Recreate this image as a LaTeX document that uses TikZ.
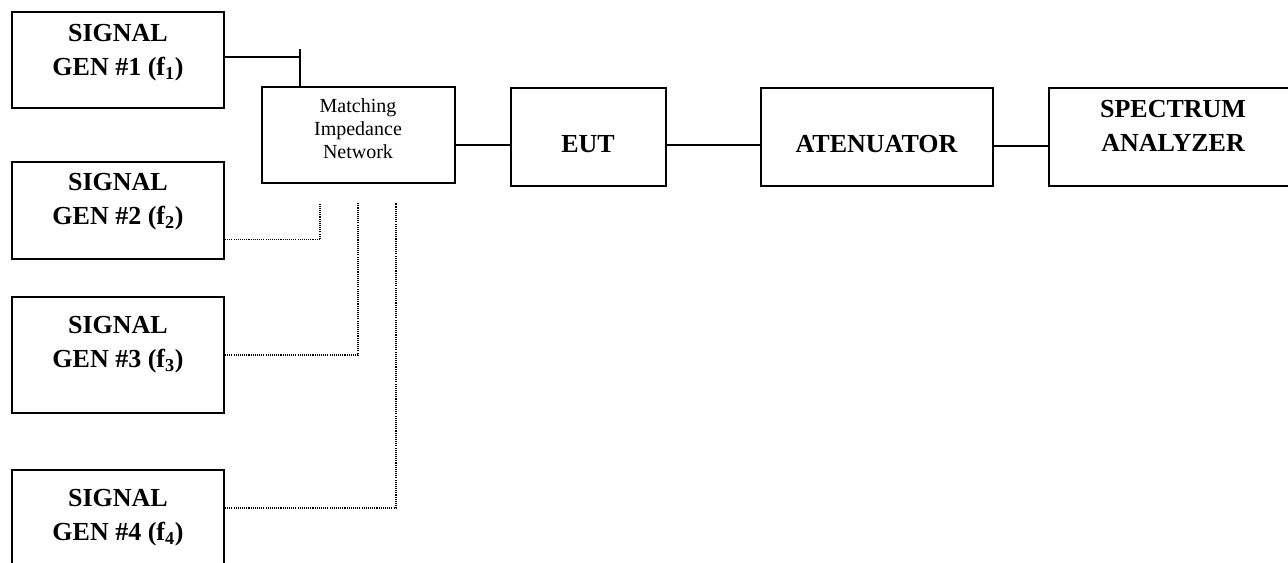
\documentclass[tikz,border=0pt]{standalone}
\usepackage{fontspec}
\setmainfont{Liberation Serif}
\usetikzlibrary{calc}

\begin{document}
\begin{tikzpicture}[x=0.75pt,y=-0.75pt,
    box/.style={draw, line width=1.5pt, inner sep=0pt},
    bigtxt/.style={align=center, inner sep=0pt, font=\fontsize{19.5}{25.5}\selectfont\bfseries},
    smalltxt/.style={align=center, inner sep=0pt, font=\fontsize{15}{17.25}\selectfont},
    wire/.style={line width=1.3pt},
    dotwire/.style={line width=0.8pt, dash pattern=on 0.8pt off 0.8pt}]
    \useasboundingbox (0,0) rectangle (1288,563);
    \clip (0,0) rectangle (1288,563);

    % 四个信号源
    \node[box, minimum width=159pt, minimum height=72pt] (gen1) at (118,60) {};
    \node[box, minimum width=159pt, minimum height=72.75pt] (gen2) at (118,210.5) {};
    \node[box, minimum width=159pt, minimum height=87pt] (gen3) at (118,355) {};
    \node[box, minimum width=159pt, minimum height=87pt] (gen4) at (118,528) {};
    \node[bigtxt, anchor=north] (gen1txt) at (118,24) {SIGNAL\\GEN \#1 (f\textsubscript{1})};
    \node[bigtxt, anchor=north] (gen2txt) at (118,173) {SIGNAL\\GEN \#2 (f\textsubscript{2})};
    \node[bigtxt, anchor=north] (gen3txt) at (118,316) {SIGNAL\\GEN \#3 (f\textsubscript{3})};
    \node[bigtxt, anchor=north] (gen4txt) at (118,489) {SIGNAL\\GEN \#4 (f\textsubscript{4})};

    % 匹配网络
    \node[box, minimum width=144.75pt, minimum height=72pt] (match) at (358.5,135) {};
    \node[smalltxt, anchor=north] (matchtxt) at (358,98) {Matching\\Impedance\\Network};

    % 被测设备、衰减器、频谱仪
    \node[box, minimum width=116.25pt, minimum height=73.5pt] (eut) at (588.5,137) {};
    \node[bigtxt, anchor=base] (euttxt) at (588,152) {EUT};
    \node[box, minimum width=174pt, minimum height=73.5pt] (atten) at (877,137) {};
    \node[bigtxt, anchor=base] (attentxt) at (876.5,152) {ATENUATOR};
    \node[box, minimum width=186pt, minimum height=73.5pt] (spec) at (1173,137) {};
    \node[bigtxt, anchor=north] (spectxt) at (1173,100) {SPECTRUM\\ANALYZER};

    % 信号源1：实线接入
    \coordinate (tee) at (300,49);
    \draw[wire] ([yshift=2pt]gen1.east) -- ([yshift=2pt]gen1.east -| tee);
    \draw[wire] (tee) -- (tee |- match.north);

    % 信号源2--4：点线接入
    \coordinate (tap2) at (320,203);
    \coordinate (tap3) at (358,203);
    \coordinate (tap4) at (396,203);
    \draw[dotwire] ([yshift=-22pt]gen2.east) -| (tap2);
    \draw[dotwire] (gen3.east) -| (tap3);
    \draw[dotwire] ([yshift=15pt]gen4.east) -| (tap4);

    % 主信号链
    \draw[wire] ([yshift=-7.5pt]match.east) -- ([yshift=-7.5pt]match.east -| eut.west);
    \draw[wire] ([yshift=-6pt]eut.east) -- ([yshift=-6pt]eut.east -| atten.west);
    \draw[wire] ([yshift=-6.75pt]atten.east) -- ([yshift=-6.75pt]atten.east -| spec.west);
\end{tikzpicture}
\end{document}
